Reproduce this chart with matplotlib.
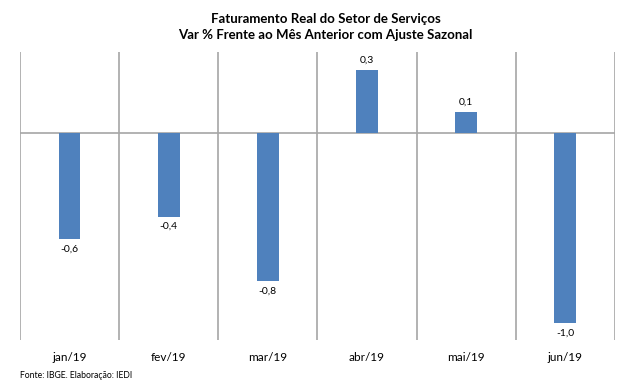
import numpy as np
import matplotlib
matplotlib.use("Agg")
import matplotlib.pyplot as plt

# dados (var % frente ao mes anterior, com ajuste sazonal)
meses = ["jan/19", "fev/19", "mar/19", "abr/19", "mai/19", "jun/19"]
valores = [-0.56, -0.44, -0.78, 0.33, 0.11, -1.0]
rotulos = ["-0,6", "-0,4", "-0,8", "0,3", "0,1", "-1,0"]

plt.rcParams['font.family'] = ['Lato', 'DejaVu Sans']

fig = plt.figure(figsize=(6.24, 3.92), dpi=100)
ax = fig.add_axes([0.032, 0.1327, 0.9535, 0.734])

x = np.arange(len(meses))
ax.bar(x, valores, width=0.22, color='#4F81BD', zorder=3)

# linhas verticais separando as categorias
for b in np.arange(-0.5, len(meses), 1.0):
    ax.axvline(b, color='#A6A6A6', lw=1.2, zorder=1)
ax.axhline(0, color='#A6A6A6', lw=1.2, zorder=2)

for xi, v, r in zip(x, valores, rotulos):
    if v >= 0:
        ax.annotate(r, (xi, v), xytext=(0, 4), textcoords='offset points',
                    ha='center', va='bottom', fontsize=7.5)
    else:
        ax.annotate(r, (xi, v), xytext=(0, -4), textcoords='offset points',
                    ha='center', va='top', fontsize=7.5)

ax.set_xlim(-0.5, len(meses) - 0.5)
ax.set_ylim(-1.09, 0.426)
ax.set_xticks(x)
ax.set_xticklabels(meses, fontsize=8.5)
ax.tick_params(axis='x', length=0, pad=9)
ax.set_yticks([])
for s in ax.spines.values():
    s.set_visible(False)

fig.text(0.522, 0.952, "Faturamento Real do Setor de Serviços", ha='center',
         va='center', fontsize=9.5, fontweight='bold')
fig.text(0.522, 0.911, "Var % Frente ao Mês Anterior com Ajuste Sazonal", ha='center',
         va='center', fontsize=9.5, fontweight='bold')
fig.text(0.032, 0.043, "Fonte: IBGE. Elaboração: IEDI", ha='left', va='center',
         fontsize=6.2)

fig.savefig("out.png", dpi=100)
